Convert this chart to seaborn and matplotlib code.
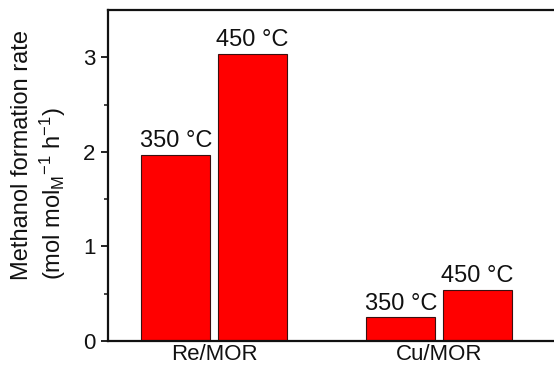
import matplotlib
matplotlib.use("Agg")
import matplotlib.pyplot as plt
import seaborn as sns
import pandas as pd

# Methanol formation rates for the two catalysts at two temperatures
catalysts = ["Re/MOR", "Re/MOR", "Cu/MOR", "Cu/MOR"]
temperatures = ["350 °C", "450 °C", "350 °C", "450 °C"]
rates = [1.97, 3.04, 0.25, 0.54]
category_order = ["Re/MOR", "Cu/MOR"]
temperature_order = ["350 °C", "450 °C"]

df = pd.DataFrame({"catalyst": catalysts, "temperature": temperatures, "rate": rates})

sns.set_theme(style="ticks")
plt.rcParams["font.family"] = ["Liberation Sans", "DejaVu Sans"]
plt.rcParams["mathtext.fontset"] = "custom"
plt.rcParams["mathtext.rm"] = "Liberation Sans"
plt.rcParams["mathtext.it"] = "Liberation Sans:italic"

fig = plt.figure(figsize=(5.54, 3.66), dpi=100)
ax = fig.add_axes([108 / 554, 25 / 366, 1.0157 - 108 / 554, 331 / 366])

sns.barplot(
    data=df, x="catalyst", y="rate", hue="temperature",
    order=category_order, hue_order=temperature_order,
    palette=["#ff0000", "#ff0000"], width=0.68, gap=0.1,
    edgecolor="#3a1010", linewidth=0.8, saturation=1, legend=False, ax=ax,
)

for container, temp in zip(ax.containers, temperature_order):
    ax.bar_label(container, labels=[temp] * len(container), padding=2,
                 fontsize=17, color="#111111")

ax.set_xlim(-0.471, 1.55)
ax.set_ylim(0, 3.5)
ax.set_yticks([0, 1, 2, 3])
ax.set_yticks([0.5, 1.5, 2.5], minor=True)
ax.tick_params(axis="y", which="major", length=5, width=1.3, labelsize=16, pad=4, colors="#111111")
ax.tick_params(axis="y", which="minor", length=3, width=1.1, colors="#111111")
ax.tick_params(axis="x", length=0, labelsize=16, pad=2, colors="#111111")
ax.set_xlabel("")

for side in ["left", "top", "bottom"]:
    ax.spines[side].set_linewidth(1.6)
    ax.spines[side].set_color("#111111")
ax.spines["right"].set_visible(False)

ax.set_ylabel("Methanol formation rate\n(mol mol$_\\mathregular{M}$$^{-1}$ h$^{-1}$)",
              fontsize=17, multialignment="left", linespacing=1.2, color="#111111")
ax.yaxis.set_label_coords(68 / 554, (366 - 155) / 366, transform=fig.transFigure)

fig.savefig("out.png", dpi=100)
